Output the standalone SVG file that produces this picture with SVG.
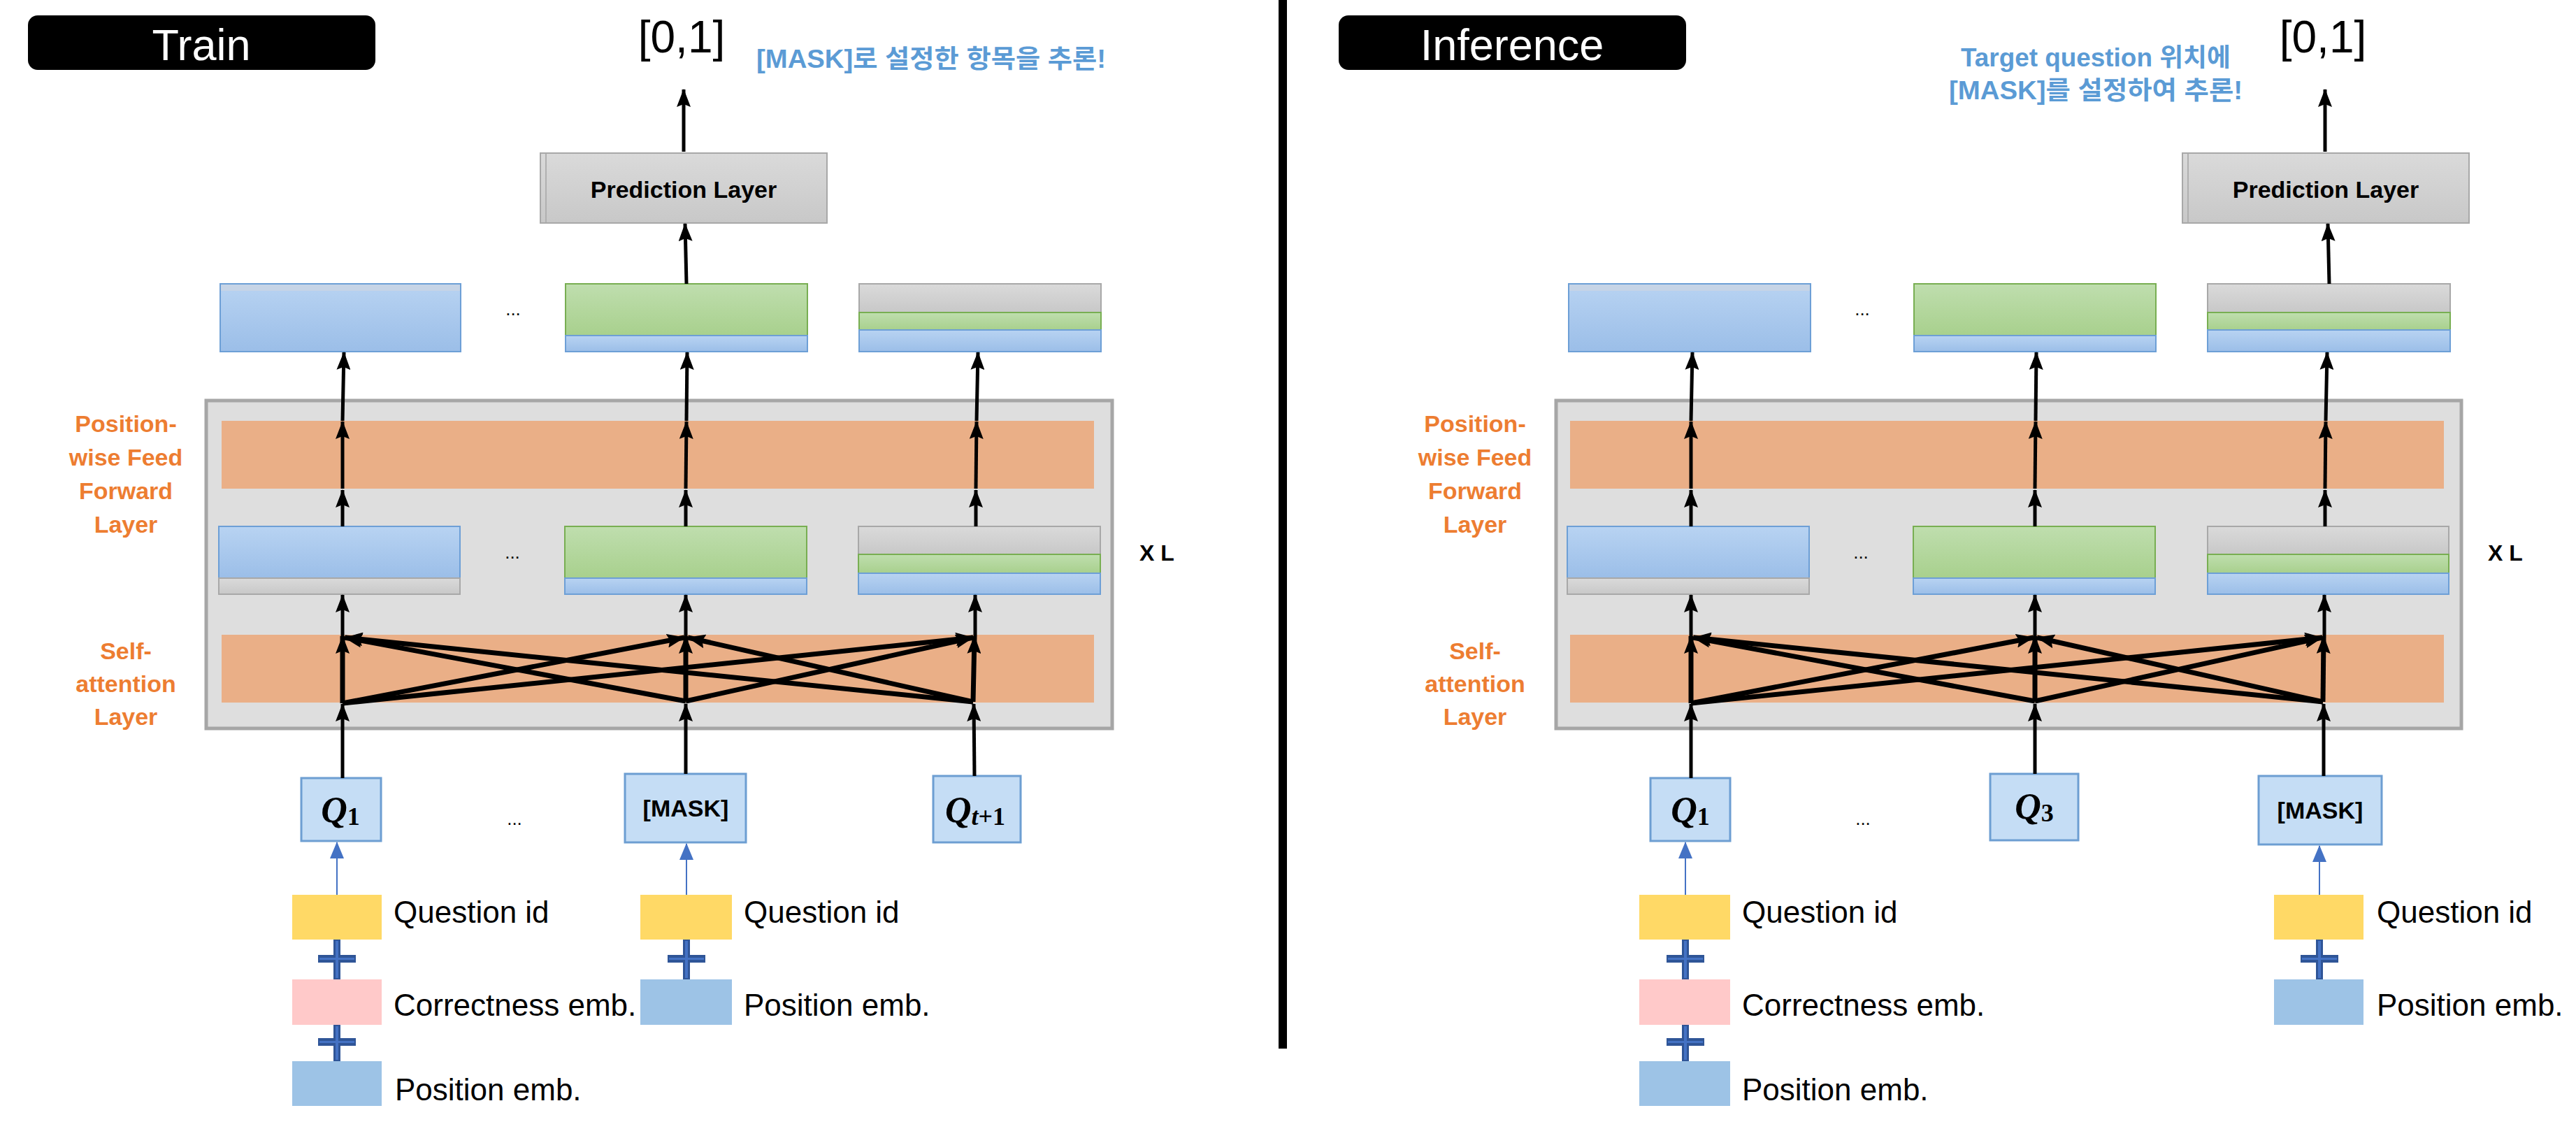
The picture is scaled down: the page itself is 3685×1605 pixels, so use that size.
<svg xmlns="http://www.w3.org/2000/svg" width="3685" height="1605" viewBox="0 0 3685 1605">
<style>
.t{font-family:"Liberation Sans",Arial,sans-serif;fill:#000}
.lbl{font-size:44px}
.title{font-size:63px;fill:#fff;text-anchor:middle}
.out{font-size:64px;text-anchor:middle}
.pred{font-size:34px;font-weight:bold;text-anchor:middle}
.or{font-size:34px;font-weight:bold;fill:#ED7D31;text-anchor:middle}
.xl{font-size:32px;font-weight:bold}
.dots{font-size:26px;text-anchor:middle}
.mask{font-size:34px;font-weight:bold;text-anchor:middle}
.kr{font-family:"Liberation Sans","Noto Sans CJK KR",sans-serif;font-weight:bold;fill:#5B9BD5;font-size:36px}
.q{font-family:"Liberation Serif","Times New Roman",serif;font-weight:bold;font-style:italic;font-size:52px;fill:#000;text-anchor:middle}
.sub{font-style:normal;font-size:36px}
.subi{font-style:italic;font-size:36px}
.big{fill:#dedede;stroke:#a6a6a6;stroke-width:5}
.band{fill:#EAAF87}
.bl{fill:url(#gb);stroke:#6d9fd6;stroke-width:2}
.gr{fill:url(#gg);stroke:#78ae52;stroke-width:2}
.gy{fill:url(#gy);stroke:#a8a8a8;stroke-width:2}
.qb{fill:#c5ddf5;stroke:#6d9ed2;stroke-width:3}
.yel{fill:#FFD966}
.pink{fill:#FFC9C9}
.pos{fill:#9DC3E6}
.plus{fill:#2F5597}
.plusi{fill:#4472C4}
.ln{stroke:#000;stroke-width:5;fill:none;marker-end:url(#ah)}
.x{stroke:#000;stroke-width:7;fill:none;marker-end:url(#ah)}
.bln{stroke:#4472C4;stroke-width:2;fill:none;marker-end:url(#bh)}
</style>
<defs>
<linearGradient id="gb" x1="0" y1="0" x2="0" y2="1"><stop offset="0" stop-color="#b8d3f2"/><stop offset="1" stop-color="#9bbee8"/></linearGradient>
<linearGradient id="gg" x1="0" y1="0" x2="0" y2="1"><stop offset="0" stop-color="#bfdeae"/><stop offset="1" stop-color="#a8d08d"/></linearGradient>
<linearGradient id="gy" x1="0" y1="0" x2="0" y2="1"><stop offset="0" stop-color="#dadada"/><stop offset="1" stop-color="#c8c8c8"/></linearGradient>
<marker id="ah" viewBox="0 0 26 20" refX="25" refY="10" markerWidth="26" markerHeight="20" markerUnits="userSpaceOnUse" orient="auto"><path d="M0,0 L26,10 L0,20 L4,10 z" fill="#000"/></marker>
<marker id="bh" viewBox="0 0 24 20" refX="23" refY="10" markerWidth="24" markerHeight="20" markerUnits="userSpaceOnUse" orient="auto"><path d="M0,0 L24,10 L0,20 z" fill="#4472C4"/></marker>
</defs>
<rect width="3685" height="1605" fill="#fff"/>

<rect id="divider" x="1829" y="0" width="12" height="1500" fill="#000"/>

<!-- ================= TRAIN ================= -->
<g id="train-title"><rect x="40" y="22" width="497" height="78" rx="14" fill="#000"/><text class="t title" x="288" y="86">Train</text></g>
<g id="train-output"><text class="t out" x="975" y="75">[0,1]</text></g>
<g id="train-note"><text class="kr" x="1082" y="97" textLength="500" lengthAdjust="spacingAndGlyphs">[MASK]로 설정한 항목을 추론!</text></g>
<g id="train-pred"><rect x="773" y="219" width="410" height="100" class="gy"/><line x1="781" y1="220" x2="781" y2="318" stroke="#b0b0b0" stroke-width="2"/><text class="t pred" x="978" y="283">Prediction Layer</text></g>

<g id="train-labels">
<text class="t or" x="180" y="618">Position-</text>
<text class="t or" x="180" y="666">wise Feed</text>
<text class="t or" x="180" y="714">Forward</text>
<text class="t or" x="180" y="762">Layer</text>
<text class="t or" x="180" y="943">Self-</text>
<text class="t or" x="180" y="990">attention</text>
<text class="t or" x="180" y="1037">Layer</text>
</g>

<g id="train-block"><rect x="295" y="573" width="1296" height="469" class="big"/>
<rect class="band" x="317" y="602" width="1248" height="97"/>
<rect class="band" x="317" y="908" width="1248" height="97"/>
</g>
<text class="t xl" x="1630" y="802">X L</text>

<g id="train-top1"><rect class="bl" x="315" y="406" width="344" height="97"/><rect x="316" y="407" width="342" height="9" fill="#c6d4e6"/></g>
<g id="train-top2"><rect class="gr" x="809" y="406" width="346" height="74"/><rect class="bl" x="809" y="480" width="346" height="23"/></g>
<g id="train-top3"><rect class="gy" x="1229" y="406" width="346" height="41"/><rect class="gr" x="1229" y="447" width="346" height="25"/><rect class="bl" x="1229" y="472" width="346" height="31"/></g>
<text class="t dots" x="734" y="451">...</text>
<g id="train-mid1"><rect class="bl" x="313" y="753" width="345" height="74"/><rect class="gy" x="313" y="827" width="345" height="23"/></g>
<g id="train-mid2"><rect class="gr" x="808" y="753" width="346" height="74"/><rect class="bl" x="808" y="827" width="346" height="23"/></g>
<g id="train-mid3"><rect class="gy" x="1228" y="753" width="346" height="40"/><rect class="gr" x="1228" y="793" width="346" height="27"/><rect class="bl" x="1228" y="820" width="346" height="30"/></g>
<text class="t dots" x="733" y="799">...</text>

<g id="train-q1"><rect class="qb" x="431" y="1113" width="114" height="90"/><text class="q" x="487" y="1176">Q<tspan class="sub" dy="4">1</tspan></text></g>
<g id="train-mask"><rect class="qb" x="894" y="1107" width="173" height="98"/><text class="t mask" x="981" y="1168">[MASK]</text></g>
<g id="train-qt1"><rect class="qb" x="1335" y="1110" width="125" height="95"/><text class="q" x="1395" y="1176">Q<tspan class="subi" dy="4">t</tspan><tspan class="sub">+1</tspan></text></g>
<text class="t dots" x="736" y="1180">...</text>

<g id="train-emb1">
<rect class="yel" x="418" y="1280" width="128" height="64"/>
<rect class="pink" x="418" y="1401" width="128" height="65"/>
<rect class="pos" x="418" y="1518" width="128" height="64"/>
<text class="t lbl" x="563" y="1320">Question id</text>
<text class="t lbl" x="563" y="1453">Correctness emb.</text>
<text class="t lbl" x="565" y="1574">Position emb.</text>
<rect class="plus" x="477" y="1344" width="10" height="57"/><rect class="plus" x="455" y="1366" width="54" height="11"/><rect class="plusi" x="480" y="1346" width="4" height="53"/><rect class="plusi" x="457" y="1370" width="50" height="3"/>
<rect class="plus" x="477" y="1466" width="10" height="52"/><rect class="plus" x="455" y="1485" width="54" height="11"/><rect class="plusi" x="480" y="1468" width="4" height="48"/><rect class="plusi" x="457" y="1489" width="50" height="3"/>
</g>
<g id="train-emb2">
<rect class="yel" x="916" y="1280" width="131" height="64"/>
<rect class="pos" x="916" y="1401" width="131" height="65"/>
<text class="t lbl" x="1064" y="1320">Question id</text>
<text class="t lbl" x="1064" y="1453">Position emb.</text>
<rect class="plus" x="977" y="1344" width="10" height="57"/><rect class="plus" x="955" y="1366" width="54" height="11"/><rect class="plusi" x="980" y="1346" width="4" height="53"/><rect class="plusi" x="957" y="1370" width="50" height="3"/>
</g>

<g id="train-connectors">
<line class="ln" x1="978" y1="217" x2="978" y2="128"/>
<line class="ln" x1="982" y1="406" x2="980" y2="320"/>
<line class="ln" x1="490" y1="1113" x2="490" y2="1007"/>
<line class="ln" x1="490" y1="910" x2="490" y2="851"/>
<line class="ln" x1="490" y1="753" x2="490" y2="701"/>
<line class="ln" x1="490" y1="699" x2="490" y2="603"/>
<line class="ln" x1="490" y1="602" x2="492" y2="504"/>
<line class="ln" x1="981" y1="1107" x2="981" y2="1007"/>
<line class="ln" x1="981" y1="910" x2="981" y2="851"/>
<line class="ln" x1="981" y1="753" x2="981" y2="701"/>
<line class="ln" x1="981" y1="699" x2="982" y2="603"/>
<line class="ln" x1="982" y1="602" x2="983" y2="504"/>
<line class="ln" x1="1394" y1="1110" x2="1393" y2="1007"/>
<line class="ln" x1="1395" y1="910" x2="1395" y2="851"/>
<line class="ln" x1="1396" y1="753" x2="1396" y2="701"/>
<line class="ln" x1="1396" y1="699" x2="1397" y2="603"/>
<line class="ln" x1="1397" y1="602" x2="1399" y2="504"/>
<line class="x" x1="490" y1="1006" x2="490" y2="910"/>
<line class="x" x1="490" y1="1006" x2="979" y2="912"/>
<line class="x" x1="490" y1="1006" x2="1392" y2="912"/>
<line class="x" x1="981" y1="1003" x2="981" y2="910"/>
<line class="x" x1="981" y1="1003" x2="493" y2="912"/>
<line class="x" x1="981" y1="1003" x2="1392" y2="912"/>
<line class="x" x1="1392" y1="1004" x2="1394" y2="910"/>
<line class="x" x1="1392" y1="1004" x2="494" y2="912"/>
<line class="x" x1="1392" y1="1004" x2="984" y2="912"/>
<line class="bln" x1="482" y1="1280" x2="482" y2="1205"/>
<line class="bln" x1="982" y1="1280" x2="982" y2="1207"/>
</g>

<!-- ================= INFERENCE ================= -->
<g id="inf-title"><rect x="1915" y="22" width="497" height="78" rx="14" fill="#000"/><text class="t title" x="2163" y="86">Inference</text></g>
<g id="inf-output"><text class="t out" x="3323" y="75">[0,1]</text></g>
<g id="inf-note">
<text class="kr" x="2805" y="95" textLength="386" lengthAdjust="spacingAndGlyphs">Target question 위치에</text>
<text class="kr" x="2788" y="142" textLength="420" lengthAdjust="spacingAndGlyphs">[MASK]를 설정하여 추론!</text>
</g>
<g id="inf-pred"><rect x="3122" y="219" width="410" height="100" class="gy"/><line x1="3130" y1="220" x2="3130" y2="318" stroke="#b0b0b0" stroke-width="2"/><text class="t pred" x="3327" y="283">Prediction Layer</text></g>

<g id="inf-labels">
<text class="t or" x="2110" y="618">Position-</text>
<text class="t or" x="2110" y="666">wise Feed</text>
<text class="t or" x="2110" y="714">Forward</text>
<text class="t or" x="2110" y="762">Layer</text>
<text class="t or" x="2110" y="943">Self-</text>
<text class="t or" x="2110" y="990">attention</text>
<text class="t or" x="2110" y="1037">Layer</text>
</g>

<g id="inf-block"><rect x="2226" y="573" width="1295" height="469" class="big"/>
<rect class="band" x="2246" y="602" width="1250" height="97"/>
<rect class="band" x="2246" y="908" width="1250" height="97"/>
</g>
<text class="t xl" x="3559" y="802">X L</text>

<g id="inf-top1"><rect class="bl" x="2244" y="406" width="346" height="97"/><rect x="2245" y="407" width="344" height="9" fill="#c6d4e6"/></g>
<g id="inf-top2"><rect class="gr" x="2738" y="406" width="346" height="74"/><rect class="bl" x="2738" y="480" width="346" height="23"/></g>
<g id="inf-top3"><rect class="gy" x="3158" y="406" width="347" height="41"/><rect class="gr" x="3158" y="447" width="347" height="25"/><rect class="bl" x="3158" y="472" width="347" height="31"/></g>
<text class="t dots" x="2664" y="451">...</text>
<g id="inf-mid1"><rect class="bl" x="2242" y="753" width="346" height="74"/><rect class="gy" x="2242" y="827" width="346" height="23"/></g>
<g id="inf-mid2"><rect class="gr" x="2737" y="753" width="346" height="74"/><rect class="bl" x="2737" y="827" width="346" height="23"/></g>
<g id="inf-mid3"><rect class="gy" x="3158" y="753" width="345" height="40"/><rect class="gr" x="3158" y="793" width="345" height="27"/><rect class="bl" x="3158" y="820" width="345" height="30"/></g>
<text class="t dots" x="2662" y="799">...</text>

<g id="inf-q1"><rect class="qb" x="2361" y="1113" width="114" height="90"/><text class="q" x="2418" y="1176">Q<tspan class="sub" dy="4">1</tspan></text></g>
<g id="inf-q3"><rect class="qb" x="2847" y="1107" width="126" height="95"/><text class="q" x="2910" y="1171">Q<tspan class="sub" dy="4">3</tspan></text></g>
<g id="inf-mask"><rect class="qb" x="3231" y="1110" width="176" height="98"/><text class="t mask" x="3319" y="1171">[MASK]</text></g>
<text class="t dots" x="2665" y="1180">...</text>

<g id="inf-emb1">
<rect class="yel" x="2345" y="1280" width="130" height="64"/>
<rect class="pink" x="2345" y="1401" width="130" height="65"/>
<rect class="pos" x="2345" y="1518" width="130" height="64"/>
<text class="t lbl" x="2492" y="1320">Question id</text>
<text class="t lbl" x="2492" y="1453">Correctness emb.</text>
<text class="t lbl" x="2492" y="1574">Position emb.</text>
<rect class="plus" x="2406" y="1344" width="10" height="57"/><rect class="plus" x="2384" y="1366" width="54" height="11"/><rect class="plusi" x="2409" y="1346" width="4" height="53"/><rect class="plusi" x="2386" y="1370" width="50" height="3"/>
<rect class="plus" x="2406" y="1466" width="10" height="52"/><rect class="plus" x="2384" y="1485" width="54" height="11"/><rect class="plusi" x="2409" y="1468" width="4" height="48"/><rect class="plusi" x="2386" y="1489" width="50" height="3"/>
</g>
<g id="inf-emb2">
<rect class="yel" x="3253" y="1280" width="128" height="64"/>
<rect class="pos" x="3253" y="1401" width="128" height="65"/>
<text class="t lbl" x="3400" y="1320">Question id</text>
<text class="t lbl" x="3400" y="1453">Position emb.</text>
<rect class="plus" x="3313" y="1344" width="10" height="57"/><rect class="plus" x="3291" y="1366" width="54" height="11"/><rect class="plusi" x="3316" y="1346" width="4" height="53"/><rect class="plusi" x="3293" y="1370" width="50" height="3"/>
</g>

<g id="inf-connectors">
<line class="ln" x1="3326" y1="217" x2="3326" y2="128"/>
<line class="ln" x1="3332" y1="406" x2="3330" y2="320"/>
<line class="ln" x1="2419" y1="1113" x2="2419" y2="1007"/>
<line class="ln" x1="2419" y1="910" x2="2419" y2="851"/>
<line class="ln" x1="2419" y1="753" x2="2419" y2="701"/>
<line class="ln" x1="2419" y1="699" x2="2419" y2="603"/>
<line class="ln" x1="2419" y1="602" x2="2421" y2="504"/>
<line class="ln" x1="2911" y1="1107" x2="2911" y2="1007"/>
<line class="ln" x1="2911" y1="910" x2="2911" y2="851"/>
<line class="ln" x1="2911" y1="753" x2="2911" y2="701"/>
<line class="ln" x1="2911" y1="699" x2="2912" y2="603"/>
<line class="ln" x1="2912" y1="602" x2="2913" y2="504"/>
<line class="ln" x1="3324" y1="1110" x2="3324" y2="1007"/>
<line class="ln" x1="3325" y1="910" x2="3325" y2="851"/>
<line class="ln" x1="3326" y1="753" x2="3326" y2="701"/>
<line class="ln" x1="3326" y1="699" x2="3327" y2="603"/>
<line class="ln" x1="3327" y1="602" x2="3329" y2="504"/>
<line class="x" x1="2419" y1="1006" x2="2419" y2="910"/>
<line class="x" x1="2419" y1="1006" x2="2909" y2="912"/>
<line class="x" x1="2419" y1="1006" x2="3322" y2="912"/>
<line class="x" x1="2911" y1="1003" x2="2911" y2="910"/>
<line class="x" x1="2911" y1="1003" x2="2422" y2="912"/>
<line class="x" x1="2911" y1="1003" x2="3322" y2="912"/>
<line class="x" x1="3323" y1="1004" x2="3324" y2="910"/>
<line class="x" x1="3323" y1="1004" x2="2423" y2="912"/>
<line class="x" x1="3323" y1="1004" x2="2914" y2="912"/>
<line class="bln" x1="2411" y1="1280" x2="2411" y2="1205"/>
<line class="bln" x1="3318" y1="1280" x2="3318" y2="1210"/>
</g>
</svg>
